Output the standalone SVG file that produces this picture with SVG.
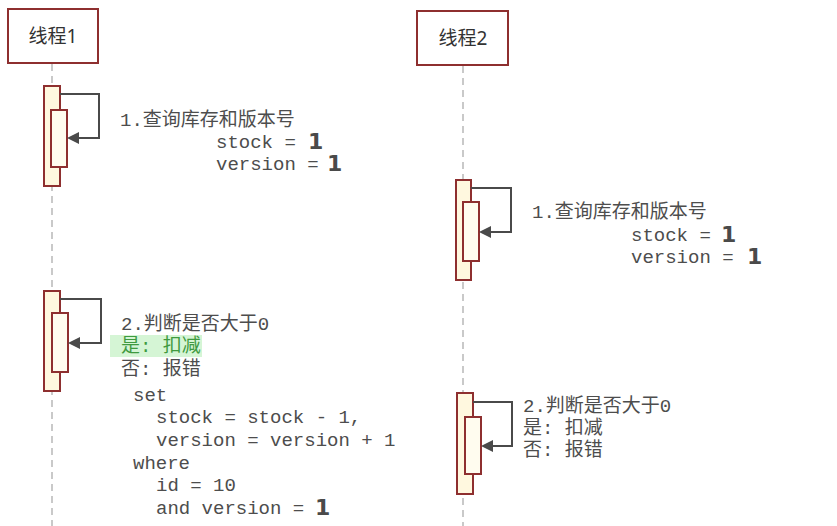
<svg xmlns="http://www.w3.org/2000/svg" width="837" height="526" viewBox="0 0 837 526">
<style>
.box{fill:#ffffff;stroke:#8e2f2f;stroke-width:2}
.life{stroke:#b8b8b8;stroke-width:1.5;stroke-dasharray:7,5;fill:none}
.act{fill:#fff8df;stroke:#8e2f2f;stroke-width:2}
.act2{fill:#fffcef;stroke:#8e2f2f;stroke-width:2}
.msg{fill:none;stroke:#4a4a4a;stroke-width:2}
.t{font-family:"Liberation Mono","DejaVu Sans Mono","Noto Sans CJK SC",monospace;font-size:19px;fill:#4d4d4d}
.h{font-family:"Noto Sans","Noto Sans CJK SC",sans-serif;font-size:19px;fill:#333333;text-anchor:middle}
.b{font-family:"DejaVu Sans","Noto Sans CJK SC",sans-serif;font-size:22px;font-weight:bold;fill:#4a4a4a}
.g{fill:#3f9a3f}
</style>
<rect width="837" height="526" fill="#ffffff"/>
<g id="lifelines">
<line class="life" x1="52" y1="64" x2="52" y2="526"/>
<line class="life" x1="463" y1="66" x2="463" y2="526"/>
</g>
<g id="thread1">
<rect class="box" x="8" y="9" width="90" height="54"/>
<text class="h" x="53" y="43">线程1</text>
</g>
<g id="thread2">
<rect class="box" x="417" y="11" width="91" height="54"/>
<text class="h" x="463" y="45">线程2</text>
</g>
<g id="t1-act1">
<rect class="act" x="44" y="86" width="16" height="100"/>
<rect class="act2" x="51" y="110" width="16" height="57"/>
</g>
<g id="t2-act1">
<rect class="act" x="456" y="180" width="15" height="100"/>
<rect class="act2" x="463" y="202" width="16" height="59"/>
</g>
<g id="t1-act2">
<rect class="act" x="44" y="291" width="16" height="100"/>
<rect class="act2" x="52" y="313" width="16" height="59"/>
</g>
<g id="t2-act2">
<rect class="act" x="457" y="393" width="16" height="101"/>
<rect class="act2" x="465" y="417" width="16" height="57"/>
</g>
<g id="connectors">
<path class="msg" d="M60,94 H99 V138 H78"/>
<path d="M67,138 L79,132 L79,144 z" fill="#4a4a4a"/>
<path class="msg" d="M471,188 H511 V232 H490"/>
<path d="M479,232 L491,226 L491,238 z" fill="#4a4a4a"/>
<path class="msg" d="M60,299 H101 V343 H79"/>
<path d="M68,343 L80,337 L80,349 z" fill="#4a4a4a"/>
<path class="msg" d="M473,402 H512 V446 H492"/>
<path d="M481,446 L493,440 L493,452 z" fill="#4a4a4a"/>
</g>
<g id="label-t1-1">
<text class="t" x="120" y="126">1.查询库存和版本号</text>
<text class="t" x="216" y="148">stock =</text>
<text class="b" x="308" y="149">1</text>
<text class="t" x="216" y="170">version =</text>
<text class="b" x="327" y="171">1</text>
</g>
<g id="label-t2-1">
<text class="t" x="532" y="218">1.查询库存和版本号</text>
<text class="t" x="631" y="241">stock =</text>
<text class="b" x="721" y="242">1</text>
<text class="t" x="631" y="263">version =</text>
<text class="b" x="747" y="264">1</text>
</g>
<g id="label-t1-2">
<text class="t" x="121" y="330">2.判断是否大于0</text>
<rect x="110" y="335" width="92" height="22" fill="#d5f5d5"/>
<text class="t g" x="121" y="352">是: 扣减</text>
<text class="t" x="121" y="375">否: 报错</text>
<text class="t" x="133" y="401">set</text>
<text class="t" x="156" y="423">stock = stock - 1,</text>
<text class="t" x="156" y="446">version = version + 1</text>
<text class="t" x="133" y="469">where</text>
<text class="t" x="156" y="491">id = 10</text>
<text class="t" x="156" y="514">and version =</text>
<text class="b" x="315" y="515">1</text>
</g>
<g id="label-t2-2">
<text class="t" x="523" y="412">2.判断是否大于0</text>
<text class="t" x="523" y="434">是: 扣减</text>
<text class="t" x="523" y="456">否: 报错</text>
</g>
</svg>
